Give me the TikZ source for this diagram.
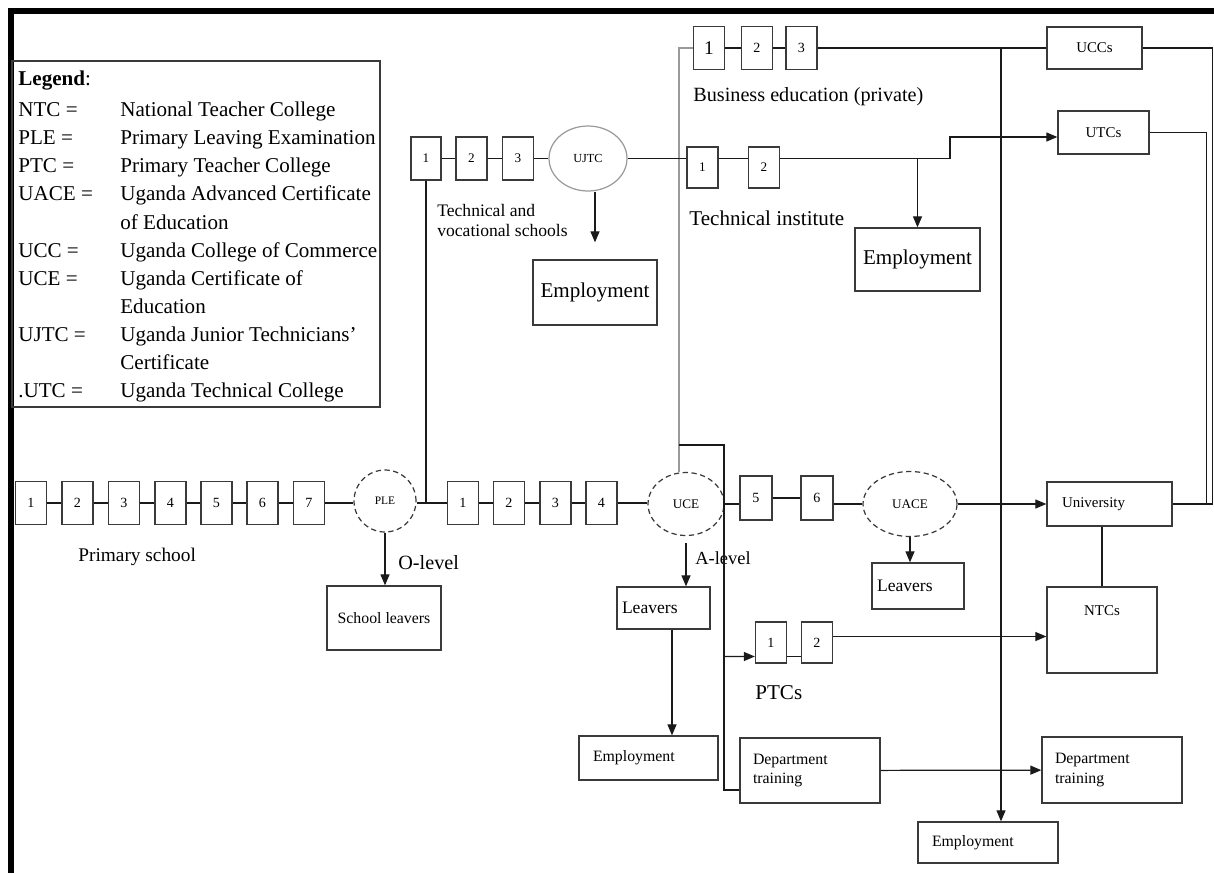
\documentclass[tikz,border=0pt]{standalone}
\usepackage{fontspec}
\setmainfont{Liberation Serif}
\usepackage{tikz}
\usetikzlibrary{arrows.meta,positioning,shapes.geometric,calc}
\definecolor{ink}{HTML}{1A1A1A}
\definecolor{boxline}{HTML}{3A3A3A}
\definecolor{paleline}{HTML}{9A9A9A}
\tikzset{
  yearbox/.style={draw=boxline,line width=0.75pt,minimum width=0.62cm,
                  minimum height=0.86cm,inner sep=0pt,
                  font=\fontsize{8}{9}\selectfont},
  exambox/.style={draw=boxline,densely dashed,line width=0.7pt,ellipse,
                  inner sep=0pt,font=\fontsize{7.5}{9}\selectfont},
  outbox/.style={draw=boxline,line width=0.75pt,inner sep=0pt,
                 font=\fontsize{12}{14}\selectfont},
  leftbox/.style={outbox,align=left,inner xsep=0.28cm,
                  font=\fontsize{9}{11}\selectfont},
  tag/.style={anchor=west,inner sep=0pt,align=left},
  flow/.style={draw=ink,line width=0.7pt},
  flowarr/.style={-{Stealth[length=2.2mm,width=1.8mm,inset=0pt]},
                  line width=0.7pt,draw=ink}
}
\begin{document}
\begin{tikzpicture}[x=0.02cm,y=-0.02cm]
    \path[use as bounding box] (0,0) rectangle (1214,873);
    % page frame
    \fill[black] (8,8) rectangle (1214,14);
    \fill[black] (8,8) rectangle (14,873);
    % legend
    \draw[boxline,line width=0.8pt] (12,61) rectangle (380,407);
    \node[anchor=north west,inner sep=0pt,font=\fontsize{12}{16}\selectfont]
      (legend) at (18,65) {%
      \begin{tabular}{@{}p{2.04cm}@{}l@{}}
        \textbf{Legend}: & \\[2pt]
        NTC = & National Teacher College\\
        PLE = & Primary Leaving Examination\\
        PTC = & Primary Teacher College\\
        UACE = & Uganda Advanced Certificate\\
         & of Education\\
        UCC = & Uganda College of Commerce\\
        UCE = & Uganda Certificate of\\
         & Education\\
        UJTC = & Uganda Junior Technicians'\\
         & Certificate\\
        .UTC = & Uganda Technical College
      \end{tabular}};
    % primary school
    \node[yearbox] (p1) at (31,503) {1};
    \node[yearbox] (p2) at (77.5,503) {2};
    \node[yearbox] (p3) at (124,503) {3};
    \node[yearbox] (p4) at (170.5,503) {4};
    \node[yearbox] (p5) at (216.5,503) {5};
    \node[yearbox] (p6) at (262.5,503) {6};
    \node[yearbox] (p7) at (309,503) {7};
    \node[exambox,circle,minimum size=1.24cm,font=\fontsize{6.5}{8}\selectfont]
      (ple) at (385,501) {PLE};
    \node[tag,font=\fontsize{11}{13}\selectfont] (prim) at (78,557)
      {Primary school};
    \node[outbox,minimum width=2.28cm,minimum height=1.28cm,
          font=\fontsize{9}{11}\selectfont] (sl) at (384,618) {School leavers};
    \node[tag,font=\fontsize{11.5}{13}\selectfont] (olev) at (398,563) {O-level};
    % O-level
    \node[yearbox] (o1) at (463,503) {1};
    \node[yearbox] (o2) at (509,503) {2};
    \node[yearbox] (o3) at (555.5,503) {3};
    \node[yearbox] (o4) at (601.5,503) {4};
    \node[exambox,minimum width=1.52cm,minimum height=1.26cm]
      (uce) at (686,504) {UCE};
    \node[tag,font=\fontsize{10.5}{12}\selectfont] (alev) at (695,558) {A-level};
    \node[leftbox,text width=1.66cm,inner xsep=0.1cm,minimum height=0.84cm,
          font=\fontsize{10}{12}\selectfont] (lv1) at (663.5,608) {Leavers};
    \node[leftbox,text width=2.22cm,minimum height=0.88cm] (emp3) at (648.5,758)
      {Employment};
    % A-level
    \node[yearbox,minimum width=0.64cm,minimum height=0.88cm] (a5) at (756,498) {5};
    \node[yearbox,minimum width=0.64cm,minimum height=0.88cm] (a6) at (817,498) {6};
    \node[exambox,minimum width=1.88cm,minimum height=1.3cm]
      (uace) at (910,504) {UACE};
    \node[leftbox,text width=1.64cm,inner xsep=0.1cm,minimum height=0.92cm,
          font=\fontsize{10}{12}\selectfont] (lv2) at (918,586) {Leavers};
    \node[leftbox,text width=1.9cm,inner xsep=0.3cm,minimum height=0.88cm,
          font=\fontsize{8.5}{10}\selectfont] (univ) at (1109.5,504) {University};
    \node[outbox,minimum width=2.2cm,text height=0.56cm,text depth=1.16cm,
          font=\fontsize{8.5}{10}\selectfont] (ntc) at (1102,630) {NTCs};
    % PTCs and department training
    \node[yearbox,minimum height=0.82cm] (pt1) at (771,642.5) {1};
    \node[yearbox,minimum height=0.82cm] (pt2) at (817,642.5) {2};
    \node[tag,font=\fontsize{12}{14}\selectfont] (ptcs) at (755,693) {PTCs};
    \node[leftbox,text width=2.28cm,inner xsep=0.26cm,minimum height=1.3cm]
      (dt1) at (810,770.5) {Department\\training};
    \node[leftbox,text width=2.28cm,inner xsep=0.26cm,minimum height=1.32cm]
      (dt2) at (1112,770) {Department\\training};
    \node[leftbox,text width=2.24cm,minimum height=0.82cm] (emp4) at (988,842.5)
      {Employment};
    % technical and vocational
    \node[yearbox,minimum width=0.6cm,font=\fontsize{7.5}{9}\selectfont]
      (t1) at (426,158.5) {1};
    \node[yearbox,font=\fontsize{7.5}{9}\selectfont] (t2) at (471.5,158.5) {2};
    \node[yearbox,font=\fontsize{7.5}{9}\selectfont] (t3) at (518,158.5) {3};
    \node[exambox,solid,draw=paleline,minimum width=1.56cm,minimum height=1.3cm,
          font=\fontsize{7}{9}\selectfont] (ujtc) at (588,158.5) {UJTC};
    \node[tag,font=\fontsize{10}{11.4}\selectfont] (tvs) at (437,220)
      {Technical and\\vocational schools};
    \node[outbox,minimum width=2.48cm,minimum height=1.3cm] (emp1) at (595,292.5)
      {Employment};
    \node[yearbox,minimum height=0.82cm,font=\fontsize{7.5}{9}\selectfont]
      (ti1) at (702.5,167.5) {1};
    \node[yearbox,minimum height=0.82cm,font=\fontsize{7.5}{9}\selectfont]
      (ti2) at (764,167.5) {2};
    \node[tag,font=\fontsize{12}{14}\selectfont] (tinst) at (689,218)
      {Technical institute};
    \node[outbox,minimum width=2.5cm,minimum height=1.26cm] (emp2) at (917.5,259.5)
      {Employment};
    \node[outbox,minimum width=1.82cm,minimum height=0.86cm,
          font=\fontsize{8.5}{10}\selectfont] (utc) at (1103.5,132.5) {UTCs};
    % business education
    \node[yearbox,font=\fontsize{11}{13}\selectfont] (b1) at (709,48) {1};
    \node[yearbox] (b2) at (757,48) {2};
    \node[yearbox] (b3) at (801.5,48) {3};
    \node[tag,font=\fontsize{11.5}{13}\selectfont] (biz) at (693,97)
      {Business education (private)};
    \node[outbox,minimum width=1.9cm,minimum height=0.84cm,
          font=\fontsize{8.5}{10}\selectfont] (ucc) at (1094.5,48) {UCCs};
    % junctions
    \coordinate (brk) at (679,445);
    \coordinate (ajoin) at (724,445);
    \coordinate (bjoin) at (1001,48);
    \coordinate (tstep) at (950,137);
    % connectors
    \draw[flow] (p1) -- (p2) -- (p3) -- (p4) -- (p5) -- (p6) -- (p7);
    \draw[flow] (p7) -- (p7 -| ple.west);
    \draw[flow] (p7 -| ple.east) -- (o1);
    \draw[flow] (o1) -- (o2) -- (o3) -- (o4);
    \draw[flow] (o4) -- (o4 -| uce.west);
    \draw[flow] (t1.south) -- (t1.south |- o1.west);
    \draw[flowarr] (ple.south) -- (ple.south |- sl.north);
    \draw[flow] (uce.east) -- (uce.east -| a5.west);
    \draw[flow] (a5) -- (a6);
    \draw[flow] (a6.east |- uace.west) -- (uace.west);
    \draw[flowarr] (uace.east) -- (uace.east -| univ.west);
    \draw[flowarr] (uace.south) -- (lv2.north -| uace.south);
    \draw[flowarr] ([yshift=-0.14cm]uce.south) -- (uce.south |- lv1.north);
    \draw[flowarr] ([xshift=0.17cm]lv1.south) -- ([xshift=0.17cm]lv1.south |- emp3.north);
    \draw[paleline,line width=0.7pt] ([xshift=-0.14cm]uce.north) |- (b1.west);
    \draw[flow] (brk) -- (ajoin) |- ([yshift=-0.39cm]dt1.west);
    \draw[flowarr] (ajoin |- pt1.west) ++(0,14) -- ([yshift=-0.28cm]pt1.west);
    \draw[flow] ([yshift=-0.28cm]pt1.east) -- ([yshift=-0.28cm]pt2.west);
    \draw[flowarr] ([yshift=0.12cm]pt2.east) -- ([yshift=0.12cm]pt2.east -| ntc.west);
    \draw[flowarr] (dt1) -- (dt2);
    \draw[flow] (ntc.north |- univ.south) -- (ntc.north);
    \draw[flow] (b1) -- (b2) -- (b3) -- (ucc);
    \draw[flowarr] (bjoin) -- (bjoin |- emp4.north);
    \draw[flow] (ucc.east) -| ([xshift=0.8cm]univ.east) -- (univ.east);
    \draw[flow] (utc.east) -| ([xshift=0.68cm]univ.east) -- (univ.east);
    \draw[flow] (t1) -- (t2) -- (t3) -- (ujtc);
    \draw[flowarr] (ujtc.south -| emp1.north) -- ([yshift=0.34cm]emp1.north);
    \draw[flow] (ujtc.east) -- (ujtc.east -| ti1.west);
    \draw[flow] (ti1.east |- ujtc.east) -- (ti2.west |- ujtc.east);
    \draw[flowarr] (ti2.east |- ujtc.east) -| (tstep) -- (utc.west |- tstep);
    \draw[flowarr] (emp2.north |- ujtc.east) -- (emp2.north);
  \end{tikzpicture}
\end{document}
